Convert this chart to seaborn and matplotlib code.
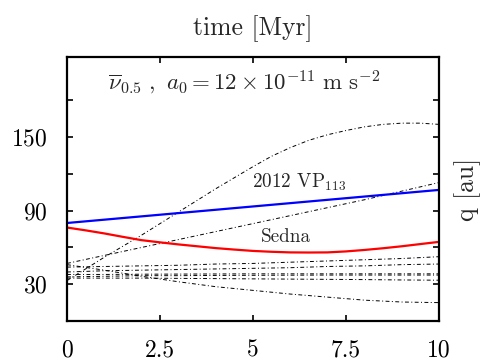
import pandas as pd
import seaborn as sns
import matplotlib.pyplot as plt

# time grid [Myr] and perihelion distances q [au]
t = [0, 1, 2, 3, 4, 5, 6, 7, 8, 9, 10]
t_half = [0, 0.5, 1, 1.5, 2, 2.5, 3, 3.5, 4, 4.5, 5, 5.5, 6, 6.5, 7, 7.5,
          8, 8.5, 9, 9.5, 10]

vp113 = [80, 82.7, 85.4, 88.1, 90.8, 93.5, 96.2, 98.9, 101.6, 104.3, 107]
sedna = [76.3, 74, 71.5, 68.7, 66, 64.2, 62.5, 61, 59.5, 58.3, 57.2, 56.5,
         56, 55.9, 56, 56.8, 58, 59.4, 61, 62.8, 64.6]

big_q = [33, 42.5, 52, 61, 70, 79.5, 89, 98.5, 108, 117, 126, 134.5,
         141.5, 147.5, 152, 155.5, 158.5, 160.5, 161.5, 161.5, 160.5]

others = {
    "etnos2": [47, 53.5, 60, 66.5, 73, 79.5, 86, 92.5, 99, 106, 113],
    "etnos3": [46, 41.5, 36.5, 32, 28, 25, 22, 19.5, 17, 15.5, 15],
    "etnos4": [44, 44.5, 45, 45.5, 46.5, 47, 48, 49, 50, 51, 52.5],
    "etnos5": [40, 41, 41.5, 42, 42.5, 43, 43.5, 44.5, 45, 46, 46.5],
    "etnos6": [38, 38, 38.2, 38.3, 38.4, 38.5, 38.5, 38.5, 38.5, 38.5, 38.5],
    "etnos7": [36, 36.5, 37, 37, 37.2, 37.3, 37.4, 37.5, 37.5, 37.5, 37.5],
    "etnos8": [35, 35, 35, 34.8, 34.6, 34.4, 34.2, 34, 33.8, 33.5, 33.3],
}

xticks = [0, 2.5, 5, 7.5, 10]
xticklabels = ["0", "2.5", "5", "7.5", "10"]
yticks = [30, 90, 150]
yminor = [60, 120, 180]

sns.set_theme(style="ticks")
plt.rcParams["font.family"] = "serif"
plt.rcParams["font.serif"] = ["cmr10", "DejaVu Serif"]
plt.rcParams["mathtext.fontset"] = "cm"
plt.rcParams["axes.formatter.use_mathtext"] = True

fig, ax = plt.subplots(figsize=(4.86, 3.63), dpi=100)
fig.subplots_adjust(left=67 / 486, right=439 / 486, top=1 - 57 / 363, bottom=1 - 321 / 363)

dashdot = (0, (4, 2.5, 1, 2.5))
sns.lineplot(x=t_half, y=big_q, ax=ax, color="black", lw=0.7, linestyle=dashdot)
for name, q in others.items():
    sns.lineplot(x=t, y=q, ax=ax, color="black", lw=0.7, linestyle=dashdot)

sns.lineplot(x=t, y=vp113, ax=ax, color="#0000ff", lw=1.6)
sns.lineplot(x=t_half, y=sedna, ax=ax, color="#ff0000", lw=1.6)

ax.set_xlim(0, 10)
ax.set_ylim(0, 215.5)
ax.set_xticks(xticks)
ax.set_xticklabels(xticklabels)
ax.set_yticks(yticks)
ax.set_yticks(yminor, minor=True)

ax.tick_params(which="both", direction="in", top=True, right=True,
               length=4, width=1.2, labelsize=17, colors="black")
ax.tick_params(axis="x", pad=13)
ax.tick_params(axis="y", pad=14)
for s in ax.spines.values():
    s.set_linewidth(1.6)
    s.set_color("black")

ax.xaxis.set_label_position("top")
ax.set_xlabel("time [Myr]", fontsize=18.5, labelpad=16)
ax.yaxis.set_label_position("right")
ax.set_ylabel("q [au]", fontsize=18.5, labelpad=11)

ax.text(4.76, 194, r"$\overline{\nu}_{0.5}\ ,\ a_0 = 12 \times 10^{-11}\ \mathrm{m\ s^{-2}}$",
        ha="center", va="center", fontsize=16.5)
ax.text(6.25, 113, r"2012 VP$_{113}$", ha="center", va="center", fontsize=13.8)
ax.text(5.89, 68.7, "Sedna", ha="center", va="center", fontsize=13.8)

fig.savefig("out.png", dpi=100)
